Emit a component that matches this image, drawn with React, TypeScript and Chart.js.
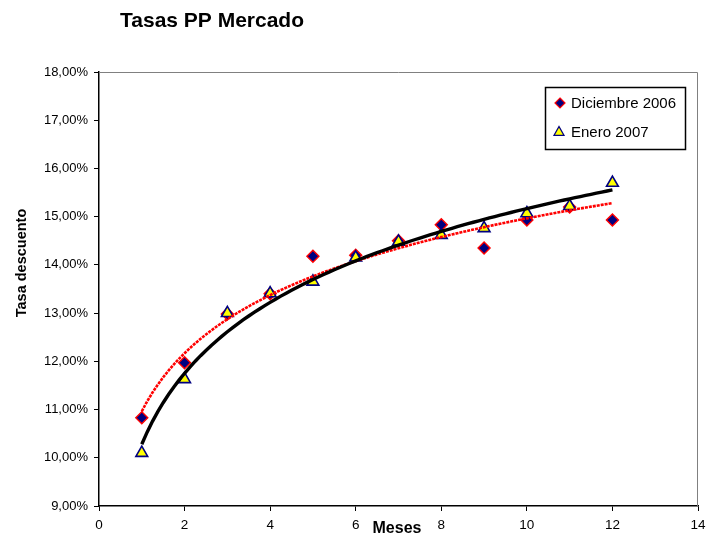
import React, { useEffect, useRef } from 'react';
import { Chart, registerables } from 'chart.js';

Chart.register(...registerables);

const TITLE = 'Tasas PP Mercado';
const X_TITLE = 'Meses';
const Y_TITLE = 'Tasa descuento';
const SERIES_NAMES = ['Diciembre 2006', 'Enero 2007'];
const MONTHS = [1, 2, 3, 4, 5, 6, 7, 8, 9, 10, 11, 12];
const DIC_2006 = [10.83, 11.97, 12.98, 13.4, 14.18, 14.2, 14.5, 14.83, 14.35, 14.93, 15.2, 14.93];
const ENE_2007 = [10.1, 11.63, 13.0, 13.41, 13.65, 14.15, 14.48, 14.62, 14.76, 15.07, 15.22, 15.7];
const X_MIN = 0;
const X_MAX = 14;
const X_STEP = 2;
const Y_MIN = 9;
const Y_MAX = 18;
const Y_STEP = 1;

const FONT = '"Liberation Sans", Arial, sans-serif';

// Logarithmic least-squares trendline (as Excel's "Logarithmic" trendline)
function logFit(xs: number[], ys: number[]) {
  const n = xs.length;
  const L = xs.map((x) => Math.log(x));
  const mL = L.reduce((s, v) => s + v, 0) / n;
  const mY = ys.reduce((s, v) => s + v, 0) / n;
  let sxy = 0;
  let sxx = 0;
  for (let i = 0; i < n; i++) {
    sxy += (L[i] - mL) * (ys[i] - mY);
    sxx += (L[i] - mL) * (L[i] - mL);
  }
  const b = sxy / sxx;
  const a = mY - b * mL;
  return { a, b };
}

function trendPoints(xs: number[], ys: number[]) {
  const { a, b } = logFit(xs, ys);
  const x0 = xs[0];
  const x1 = xs[xs.length - 1];
  const pts: { x: number; y: number }[] = [];
  const steps = 88;
  for (let i = 0; i <= steps; i++) {
    const x = x0 + ((x1 - x0) * i) / steps;
    pts.push({ x, y: a + b * Math.log(x) });
  }
  return pts;
}

function diamond(ctx: CanvasRenderingContext2D, x: number, y: number, r: number) {
  ctx.beginPath();
  ctx.moveTo(x, y - r);
  ctx.lineTo(x + r, y);
  ctx.lineTo(x, y + r);
  ctx.lineTo(x - r, y);
  ctx.closePath();
}

function triangle(ctx: CanvasRenderingContext2D, x: number, y: number, r: number) {
  ctx.beginPath();
  ctx.moveTo(x, y - r);
  ctx.lineTo(x + r * 0.9, y + r * 0.6);
  ctx.lineTo(x - r * 0.9, y + r * 0.6);
  ctx.closePath();
}

const decorPlugin = {
  id: 'decor',
  beforeDatasetsDraw(chart: any) {
    const { ctx, chartArea } = chart;
    ctx.save();
    ctx.strokeStyle = '#808080';
    ctx.lineWidth = 1;
    ctx.beginPath();
    ctx.moveTo(chartArea.left, chartArea.top + 0.5);
    ctx.lineTo(chartArea.right - 0.5, chartArea.top + 0.5);
    ctx.lineTo(chartArea.right - 0.5, chartArea.bottom);
    ctx.stroke();
    ctx.restore();
  },
  afterDraw(chart: any) {
    const { ctx } = chart;
    ctx.save();
    ctx.fillStyle = '#000';
    // title
    ctx.font = `bold 21px ${FONT}`;
    ctx.textAlign = 'left';
    ctx.textBaseline = 'alphabetic';
    ctx.fillText(TITLE, 120, 27);
    // x title
    ctx.font = `bold 16px ${FONT}`;
    ctx.textAlign = 'center';
    ctx.fillText(X_TITLE, 397, 533);
    // y title
    ctx.save();
    ctx.translate(26, 263);
    ctx.rotate(-Math.PI / 2);
    ctx.font = `bold 14.5px ${FONT}`;
    ctx.textAlign = 'center';
    ctx.textBaseline = 'alphabetic';
    ctx.fillText(Y_TITLE, 0, 0);
    ctx.restore();

    // legend
    const lx = 545;
    const ly = 87;
    const lw = 141;
    const lh = 63;
    ctx.fillStyle = '#fff';
    ctx.fillRect(lx, ly, lw, lh);
    ctx.strokeStyle = '#000';
    ctx.lineWidth = 1.5;
    ctx.strokeRect(lx + 0.5, ly + 0.5, lw - 1, lh - 1);

    diamond(ctx, 560, 103, 5);
    ctx.fillStyle = '#000080';
    ctx.fill();
    ctx.strokeStyle = '#ff0000';
    ctx.lineWidth = 1.2;
    ctx.stroke();

    triangle(ctx, 559, 132, 5.5);
    ctx.fillStyle = '#ffff00';
    ctx.fill();
    ctx.strokeStyle = '#000080';
    ctx.lineWidth = 1.3;
    ctx.stroke();

    ctx.fillStyle = '#000';
    ctx.font = `15px ${FONT}`;
    ctx.textAlign = 'left';
    ctx.textBaseline = 'alphabetic';
    ctx.fillText(SERIES_NAMES[0], 571, 108);
    ctx.fillText(SERIES_NAMES[1], 571, 137);
    ctx.restore();
  },
};

export default function App() {
  const ref = useRef<HTMLCanvasElement | null>(null);

  useEffect(() => {
    if (!ref.current) return;
    const dicPts = MONTHS.map((m, i) => ({ x: m, y: DIC_2006[i] }));
    const enePts = MONTHS.map((m, i) => ({ x: m, y: ENE_2007[i] }));
    const chart = new Chart(ref.current, {
      type: 'scatter',
      data: {
        datasets: [
          {
            label: 'Log Enero 2007',
            data: trendPoints(MONTHS, ENE_2007),
            showLine: true,
            borderColor: '#000000',
            borderWidth: 3.4,
            pointRadius: 0,
            order: 0,
          } as any,
          {
            label: 'Log Diciembre 2006',
            data: trendPoints(MONTHS, DIC_2006),
            showLine: true,
            borderColor: '#ff0000',
            borderWidth: 2.6,
            borderDash: [3, 1],
            pointRadius: 0,
            order: 1,
          } as any,
          {
            label: SERIES_NAMES[1],
            data: enePts,
            pointStyle: 'triangle',
            pointRadius: 6.8,
            backgroundColor: '#ffff00',
            borderColor: '#000080',
            borderWidth: 1.6,
            order: 2,
          },
          {
            label: SERIES_NAMES[0],
            data: dicPts,
            pointStyle: 'rectRot',
            pointRadius: 6,
            backgroundColor: '#000080',
            borderColor: '#ff0000',
            borderWidth: 1.4,
            order: 3,
          },
        ],
      },
      options: {
        animation: false,
        responsive: false,
        devicePixelRatio: 1,
        layout: { padding: { top: 72, right: 22, bottom: 0, left: 0 } },
        plugins: {
          legend: { display: false },
          title: { display: false },
          tooltip: { enabled: false },
        },
        scales: {
          x: {
            type: 'linear',
            min: X_MIN,
            max: X_MAX,
            ticks: {
              stepSize: X_STEP,
              color: '#000',
              font: { family: FONT, size: 13.5 },
              padding: 6,
            },
            grid: {
              display: true,
              drawOnChartArea: false,
              drawTicks: true,
              tickLength: 5,
              color: '#000',
            },
            border: { display: true, color: '#000', width: 1.5 },
            afterFit: (s: any) => {
              s.height = 31;
            },
          },
          y: {
            type: 'linear',
            min: Y_MIN,
            max: Y_MAX,
            ticks: {
              stepSize: Y_STEP,
              color: '#000',
              font: { family: FONT, size: 13 },
              padding: 6,
              callback: (v: any) => Number(v).toFixed(2).replace('.', ',') + '%',
            },
            grid: {
              display: true,
              drawOnChartArea: false,
              drawTicks: true,
              tickLength: 5,
              color: '#000',
            },
            border: { display: true, color: '#000', width: 1.5 },
            afterFit: (s: any) => {
              s.width = 99;
            },
          },
        },
      },
      plugins: [decorPlugin],
    });
    return () => chart.destroy();
  }, []);

  return (
    <div style={{ position: 'fixed', left: 0, top: 0, width: 720, height: 537, background: '#fff' }}>
      <canvas ref={ref} width={720} height={537} style={{ width: 720, height: 537, display: 'block' }} />
    </div>
  );
}
